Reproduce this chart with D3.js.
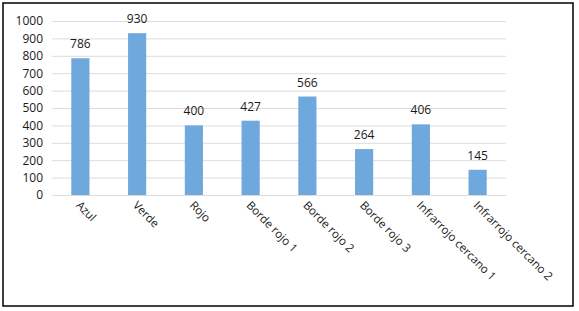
<!DOCTYPE html>
<html><head><meta charset="utf-8">
<script src="https://cdn.jsdelivr.net/npm/d3@7"></script>
<style>body{margin:0;background:#fff;}svg{display:block;}</style>
</head><body>
<script>
const categories = ["Azul","Verde","Rojo","Borde rojo 1","Borde rojo 2","Borde rojo 3","Infrarrojo cercano 1","Infrarrojo cercano 2"];
const values = [786,930,400,427,566,264,406,145];
const yTicks = [0,100,200,300,400,500,600,700,800,900,1000];

const W=579,H=311;
const svg=d3.select("body").append("svg").attr("width",W).attr("height",H);
svg.append("rect").attr("x",3).attr("y",3).attr("width",570).attr("height",303)
  .attr("fill","#fff").attr("stroke","#000").attr("stroke-width",1.5);

const x=d3.scaleBand().domain(categories).range([52,506]).paddingInner(0.68).paddingOuter(0.34);
const y=d3.scaleLinear().domain([0,1000]).range([195,21]);
const font="'Open Sans', 'Noto Sans', sans-serif";

const gy=svg.append("g").attr("transform","translate(52,0)")
  .call(d3.axisLeft(y).tickValues(yTicks).tickSize(-454).tickPadding(9).tickFormat(d3.format("d")));
gy.select(".domain").remove();
gy.selectAll(".tick line").attr("stroke","#dcdcdc").attr("stroke-width",1);
gy.selectAll(".tick text").attr("fill","#1a1a1a").style("font-family",font).style("font-size","12px");

svg.selectAll("rect.bar").data(values).enter().append("rect").attr("class","bar")
  .attr("x",(d,i)=>x(categories[i])).attr("width",x.bandwidth())
  .attr("y",d=>y(d)).attr("height",d=>y(0)-y(d)).attr("fill","#6fa8dc");

svg.selectAll("text.val").data(values).enter().append("text").attr("class","val")
  .attr("x",(d,i)=>x(categories[i])+x.bandwidth()/2).attr("y",d=>y(d)-10)
  .attr("text-anchor","middle").attr("fill","#1a1a1a")
  .style("font-family",font).style("font-size","12px").text(d=>d);

svg.selectAll("text.cat").data(categories).enter().append("text").attr("class","cat")
  .attr("transform",d=>`translate(${x(d)+x.bandwidth()/2-5},${206}) rotate(45)`)
  .attr("fill","#1a1a1a").style("font-family",font).style("font-size","11.5px").text(d=>d);
</script>
</body></html>
